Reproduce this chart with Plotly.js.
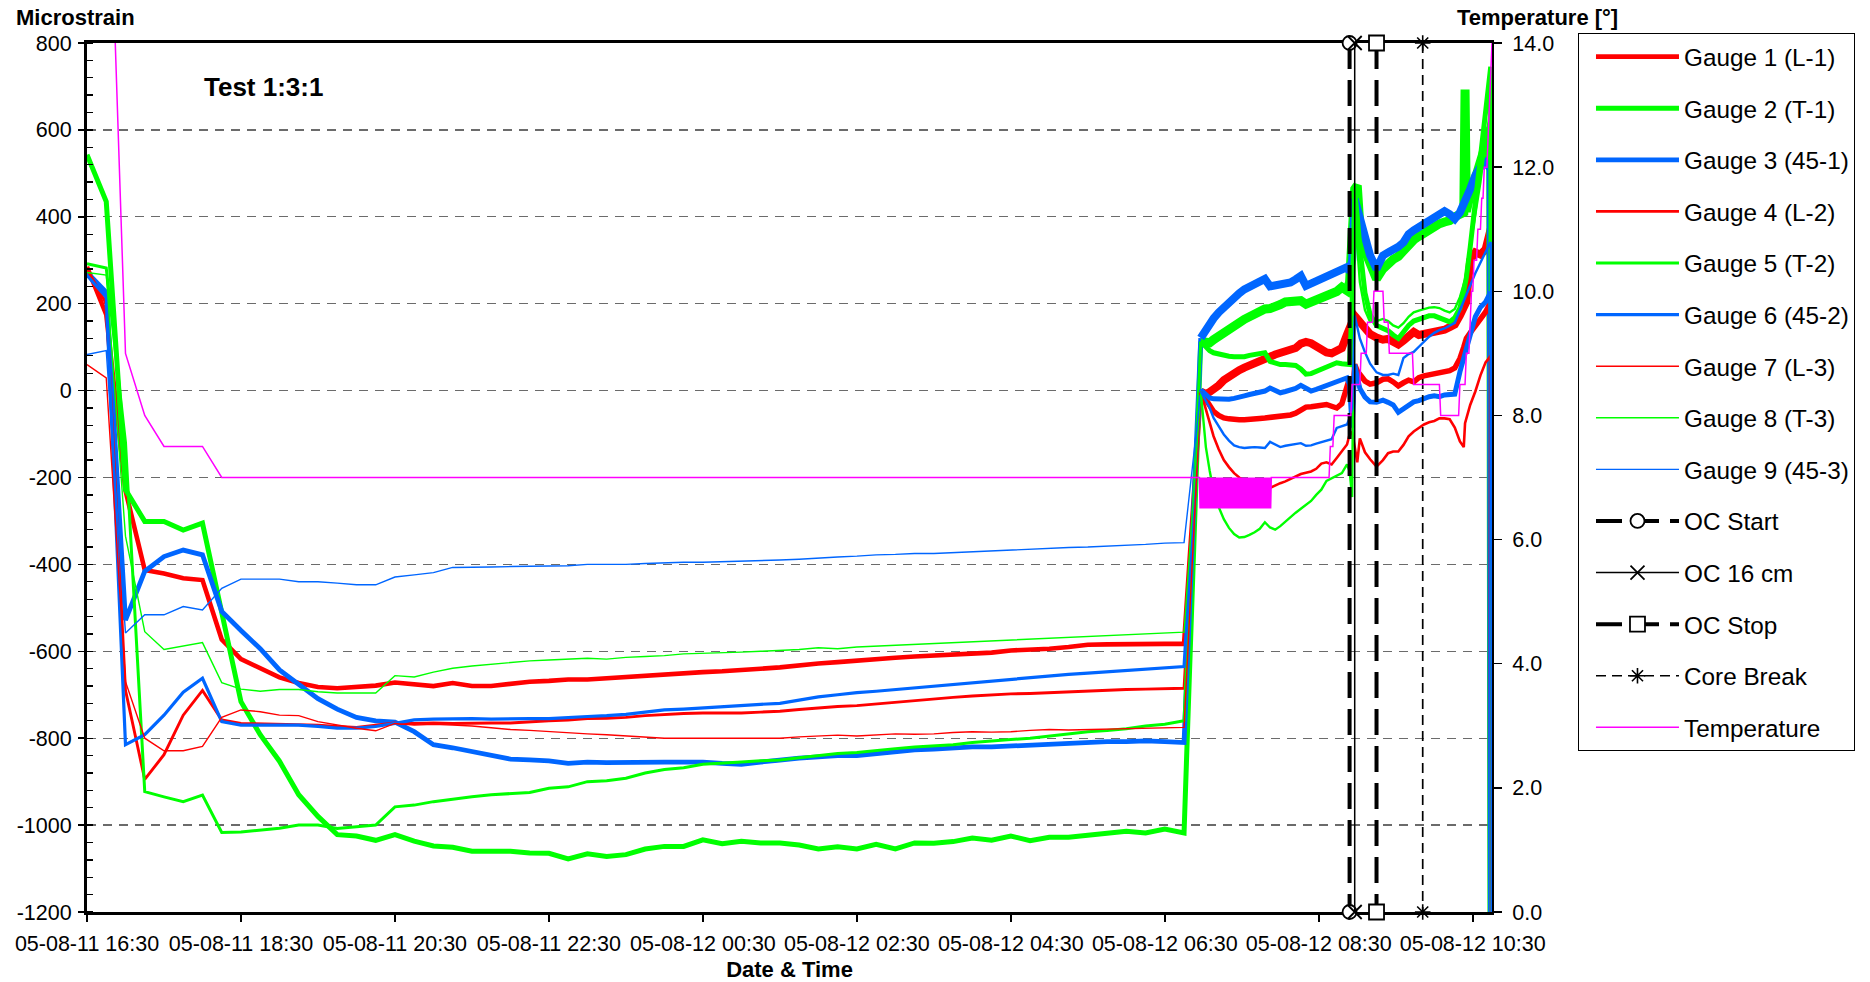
<!DOCTYPE html>
<html>
<head>
<meta charset="utf-8">
<script src="https://cdn.plot.ly/plotly-3.0.1.min.js"></script>
<style>
  html, body { margin: 0; padding: 0; background: #fff; }
  #chart { width: 1870px; height: 982px; }
</style>
</head>
<body>
<div id="chart"></div>
<script>
// ---- Logger data: strain gauges (microstrain) and temperature ----

// 15-minute readings, 05-08-11 16:30 .. 05-08-12 06:45
const slowTimes = ['16:30','16:45','17:00','17:15','17:30','17:45','18:00','18:15','18:30','18:45',
  '19:00','19:15','19:30','19:45','20:00','20:15','20:30','20:45','21:00','21:15',
  '21:30','21:45','22:00','22:15','22:30','22:45','23:00','23:15','23:30','23:45',
  '00:00','00:15','00:30','00:45','01:00','01:15','01:30','01:45','02:00','02:15',
  '02:30','02:45','03:00','03:15','03:30','03:45','04:00','04:15','04:30','04:45',
  '05:00','05:15','05:30','05:45','06:00','06:15','06:30','06:45'];

const g1Slow = [285,175,-230,-413,-421,-432,-436,-573,-618,-638,-660,-673,-682,-685,-683,-679,-672,-676,-680,-673,-680,-680,-675,-670,-668,-665,-665,-662,-660,-655,
  -652,-650,-648,-646,-644,-640,-637,-632,-628,-625,-621,-618,-615,-612,-610,-608,-605,-603,-598,-597,-594,-590,-585,-584,-583,-583,-583,-583];
const g2Slow = [543,435,-228,-301,-301,-321,-305,-515,-716,-792,-853,-930,-980,-1022,-1025,-1035,-1022,-1037,-1048,-1051,-1060,-1060,-1060,-1064,-1065,-1078,-1066,-1072,-1068,-1055,
  -1049,-1049,-1034,-1043,-1037,-1041,-1041,-1046,-1055,-1050,-1055,-1044,-1055,-1041,-1042,-1038,-1030,-1035,-1025,-1036,-1028,-1028,-1024,-1020,-1014,-1018,-1009,-1018];
const g3Slow = [272,226,-528,-416,-382,-367,-378,-508,-552,-594,-643,-677,-709,-733,-752,-760,-763,-785,-815,-822,-830,-840,-848,-850,-852,-858,-855,-856,-855,-854,
  -855,-855,-855,-858,-860,-855,-850,-846,-843,-840,-840,-835,-830,-827,-825,-822,-820,-820,-818,-815,-812,-810,-808,-808,-808,-806,-808,-810];
const g4Slow = [280,200,-690,-895,-838,-747,-690,-758,-766,-767,-768,-768,-770,-773,-775,-770,-765,-766,-765,-766,-765,-765,-765,-762,-760,-758,-755,-754,-752,-748,
  -745,-743,-742,-742,-742,-740,-738,-734,-730,-727,-725,-721,-717,-714,-710,-706,-703,-700,-698,-697,-695,-693,-692,-690,-688,-687,-686,-685];
const g5Slow = [292,282,-120,-923,-935,-946,-931,-1017,-1016,-1012,-1007,-1000,-1000,-1008,-1004,-1000,-958,-954,-946,-940,-935,-930,-928,-925,-915,-912,-900,-898,-892,-880,
  -872,-868,-860,-858,-855,-852,-850,-845,-840,-835,-833,-828,-824,-820,-818,-815,-810,-806,-803,-800,-795,-790,-785,-782,-778,-772,-768,-760];
const g6Slow = [265,215,-815,-792,-747,-694,-662,-762,-770,-770,-770,-770,-773,-777,-777,-773,-766,-758,-756,-755,-755,-756,-755,-755,-755,-752,-750,-748,-745,-740,
  -735,-733,-730,-728,-725,-722,-720,-712,-705,-700,-695,-692,-688,-684,-680,-676,-672,-668,-664,-660,-656,-653,-650,-647,-643,-640,-638,-635];
const g7Slow = [60,29,-670,-800,-829,-829,-819,-752,-735,-739,-747,-748,-762,-770,-777,-783,-766,-770,-768,-770,-772,-776,-780,-782,-785,-788,-790,-792,-795,-798,
  -800,-800,-800,-801,-800,-800,-800,-797,-795,-793,-795,-792,-790,-791,-790,-787,-785,-786,-785,-782,-780,-781,-780,-778,-778,-776,-775,-775];
const g8Slow = [272,266,-335,-555,-596,-588,-580,-672,-687,-692,-688,-688,-693,-696,-696,-696,-656,-659,-648,-639,-634,-630,-625,-622,-620,-618,-616,-618,-614,-612,
  -610,-606,-605,-604,-602,-600,-598,-596,-592,-594,-590,-588,-586,-584,-582,-580,-578,-575,-573,-571,-570,-568,-566,-564,-562,-560,-558,-556];
const g9Slow = [83,92,-558,-516,-516,-497,-505,-455,-434,-434,-434,-440,-440,-443,-447,-447,-429,-424,-419,-407,-407,-406,-405,-404,-403,-403,-400,-400,-400,-398,
  -396,-395,-395,-394,-393,-392,-390,-388,-385,-383,-381,-378,-377,-375,-375,-373,-370,-368,-366,-364,-362,-361,-360,-358,-357,-354,-351,-350];

// fast readings during overcoring, 05-08-12 06:58 .. 10:45
const fastTimes = ['06:58','07:02','07:05','07:08','07:12','07:16','07:20','07:24','07:28','07:32',
  '07:36','07:40','07:44','07:48','07:52','07:56','08:00','08:04','08:08','08:12',
  '08:16','08:20','08:24','08:28','08:32','08:36','08:40','08:44','08:48','08:52',
  '08:54','08:56','08:58','09:00','09:02','09:06','09:10','09:15','09:20','09:24',
  '09:28','09:32','09:36','09:40','09:44','09:48','09:52','09:56','10:00','10:04',
  '10:08','10:12','10:16','10:20','10:23','10:24','10:25','10:28','10:32','10:36',
  '10:40','10:44','10:45'];

const g1Fast = [-2,-8,-3,2,12,24,33,40,47,53,59,65,70,74,78,83,87,90,93,98,108,112,109,102,93,88,86,90,98,129,
  144,150,172,165,158,138,130,122,117,119,112,106,115,128,135,128,130,133,135,135,140,146,152,173,190,196,204,300,318,313,325,372,-1250];
const g2Fast = [113,111,110,117,126,135,142,150,156,164,171,179,186,188,189,191,198,204,206,208,207,199,203,209,214,217,220,228,238,230,
  250,330,464,472,380,322,287,257,280,293,302,309,322,337,347,355,363,371,378,384,388,391,400,406,410,693,412,450,490,522,560,605,-1250];
const g3Fast = [121,141,153,166,180,192,203,212,224,233,240,246,251,257,240,242,244,247,249,256,264,241,246,250,254,259,264,270,277,284,
  274,300,441,420,390,342,311,280,311,318,323,331,341,360,369,377,385,390,400,409,413,406,395,410,435,441,447,464,495,515,525,510,-1250];
const g4Fast = [-2,-20,-35,-48,-57,-63,-65,-67,-67,-67,-67,-66,-64,-63,-62,-60,-59,-58,-56,-52,-44,-38,-37,-35,-34,-32,-36,-40,-30,14,
  29,-40,60,45,36,22,15,18,26,27,20,11,18,24,20,30,34,36,38,43,43,46,52,74,100,110,120,133,150,162,181,204,-1250];
const g5Fast = [113,100,92,87,84,80,79,78,77,78,81,83,85,87,67,63,60,60,60,58,50,38,39,44,49,56,60,64,62,60,
  60,200,460,400,330,225,175,150,142,138,128,120,135,150,160,165,170,172,172,168,162,158,168,190,230,245,260,330,430,530,640,745,-1250];
const g6Fast = [2,-10,-17,-19,-20,-21,-20,-18,-16,-12,-9,-6,-4,-1,6,0,-5,-2,1,5,12,6,-1,3,8,12,16,21,25,29,
  14,-85,60,30,5,-15,-26,-27,-22,-27,-33,-50,-42,-32,-26,-23,-18,-14,-12,-14,-10,-10,-8,43,75,85,97,130,170,192,204,227,-1250];
const g7Fast = [-2,-45,-78,-105,-135,-160,-176,-190,-200,-208,-214,-217,-220,-222,-224,-218,-213,-209,-203,-198,-192,-189,-186,-180,-168,-165,-170,-155,-140,-124,
  -101,-95,-130,-165,-110,-142,-158,-175,-160,-144,-140,-140,-125,-105,-94,-85,-78,-73,-70,-64,-64,-66,-85,-117,-130,-75,-65,-33,-2,35,65,80,-1250];
const g8Fast = [-2,-130,-185,-231,-268,-296,-316,-330,-338,-337,-332,-326,-318,-303,-315,-320,-312,-301,-290,-281,-272,-264,-254,-240,-228,-208,-202,-197,-190,-170,
  -185,-245,430,330,250,185,158,160,165,160,150,145,155,170,180,184,188,191,192,190,184,180,188,215,245,255,275,330,410,480,570,655,-1250];
const g9Fast = [-2,-25,-40,-63,-83,-101,-115,-126,-130,-132,-131,-130,-131,-132,-118,-125,-130,-127,-125,-122,-121,-127,-126,-122,-119,-116,-112,-86,-82,-78,
  -63,-40,173,150,120,88,62,42,36,36,39,36,75,84,89,101,113,124,133,139,143,149,156,185,205,212,219,242,270,296,319,342,-1250];

// temperature [deg C], right axis
const tempTimesA = ['16:30','16:45','17:00','17:15','17:30','17:45','18:00','18:15','06:45'];
const tempValsA  = [18.6,18.4,9.0,8.0,7.5,7.5,7.5,7.0,7.0];
// 30-second readings while the sensor flickers between 7.0 and 6.5
const tempTimesB = [
  '06:57:00','06:57:30','06:58:00','06:58:30','06:59:00','06:59:30',
  '07:00:00','07:00:30','07:01:00','07:01:30','07:02:00','07:02:30','07:03:00','07:03:30','07:04:00','07:04:30',
  '07:05:00','07:05:30','07:06:00','07:06:30','07:07:00','07:07:30','07:08:00','07:08:30','07:09:00','07:09:30',
  '07:10:00','07:10:30','07:11:00','07:11:30','07:12:00','07:12:30','07:13:00','07:13:30','07:14:00','07:14:30',
  '07:15:00','07:15:30','07:16:00','07:16:30','07:17:00','07:17:30','07:18:00','07:18:30','07:19:00','07:19:30',
  '07:20:00','07:20:30','07:21:00','07:21:30','07:22:00','07:22:30','07:23:00','07:23:30','07:24:00','07:24:30',
  '07:25:00','07:25:30','07:26:00','07:26:30','07:27:00','07:27:30','07:28:00','07:28:30','07:29:00','07:29:30',
  '07:30:00','07:30:30','07:31:00','07:31:30','07:32:00','07:32:30','07:33:00','07:33:30','07:34:00','07:34:30',
  '07:35:00','07:35:30','07:36:00','07:36:30','07:37:00','07:37:30','07:38:00','07:38:30','07:39:00','07:39:30',
  '07:40:00','07:40:30','07:41:00','07:41:30','07:42:00','07:42:30','07:43:00','07:43:30','07:44:00','07:44:30',
  '07:45:00','07:45:30','07:46:00','07:46:30','07:47:00','07:47:30','07:48:00','07:48:30','07:49:00','07:49:30',
  '07:50:00','07:50:30','07:51:00','07:51:30','07:52:00','07:52:30'];
const tempValsB = [
  7.0,6.5,7.0,6.5,7.0,6.5,
  7.0,6.5,7.0,6.5,7.0,6.5,7.0,6.5,7.0,6.5,
  7.0,6.5,7.0,6.5,7.0,6.5,7.0,6.5,7.0,6.5,
  7.0,6.5,7.0,6.5,7.0,6.5,7.0,6.5,7.0,6.5,
  7.0,6.5,7.0,6.5,7.0,6.5,7.0,6.5,7.0,6.5,
  7.0,6.5,7.0,6.5,7.0,6.5,7.0,6.5,7.0,6.5,
  7.0,6.5,7.0,6.5,7.0,6.5,7.0,6.5,7.0,6.5,
  7.0,6.5,7.0,6.5,7.0,6.5,7.0,6.5,7.0,6.5,
  7.0,6.5,7.0,6.5,7.0,6.5,7.0,6.5,7.0,6.5,
  7.0,6.5,7.0,6.5,7.0,6.5,7.0,6.5,7.0,6.5,
  7.0,6.5,7.0,6.5,7.0,6.5,7.0,6.5,7.0,6.5,
  7.0,6.5,7.0,6.5,7.0,6.5];
const tempTimesC = ['07:53','08:38','08:39','08:41','08:42','08:55','08:56','09:02','09:03','09:07',
  '09:08','09:12','09:13','09:20','09:21','09:24','09:25','09:43','09:44','10:04',
  '10:05','10:19','10:20','10:24','10:25','10:27','10:28','10:29','10:30','10:31',
  '10:33','10:34','10:36','10:37','10:38','10:39','10:41','10:42','10:43','10:44','10:45'];
const tempValsC  = [7.0,7.0,7.5,7.5,8.0,8.0,8.5,8.5,9.0,9.0,
  9.5,9.5,10.0,10.0,9.5,9.5,9.0,9.0,8.5,8.5,
  8.0,8.0,8.5,8.5,9.0,9.0,9.5,10.0,10.0,10.5,
  10.5,11.0,11.0,11.5,11.5,12.0,12.0,12.5,13.0,13.5,14.0];

// overcoring events
const eventNames = ['OC Start','OC 16 cm','OC Stop','Core Break'];
const eventTimes = ['08:54','08:58','09:15','09:51'];
const eventSpan  = [800, -1200];

// axis ticks
const strainTicks = [800,600,400,200,0,-200,-400,-600,-800,-1000,-1200];
const strainTickText = ['800','600','400','200','0','-200','-400','-600','-800','-1000','-1200'];

const gaugeNames = ['Gauge 1 (L-1)','Gauge 2 (T-1)','Gauge 3 (45-1)','Gauge 4 (L-2)','Gauge 5 (T-2)',
  'Gauge 6 (45-2)','Gauge 7 (L-3)','Gauge 8 (T-3)','Gauge 9 (45-3)'];

// ---- drawing ----
const FONT = 'Liberation Sans, Arial, Helvetica, sans-serif';
const RED = '#ff0000', GREEN = '#00ff00', BLUE = '#0066ff', MAGENTA = '#ff00ff';

// yy-mm-dd: evening belongs to the 11th, morning to the 12th
const at = hm => (parseInt(hm, 10) >= 12 ? '2005-08-11 ' : '2005-08-12 ') + hm;

const slowSeries = [g1Slow,g2Slow,g3Slow,g4Slow,g5Slow,g6Slow,g7Slow,g8Slow,g9Slow];
const fastSeries = [g1Fast,g2Fast,g3Fast,g4Fast,g5Fast,g6Fast,g7Fast,g8Fast,g9Fast];
const colors = [RED,GREEN,BLUE,RED,GREEN,BLUE,RED,GREEN,BLUE];
const slowWidth = [4.6,5,4.8,2.9,3,3.2,1.4,1.4,1.4];
const fastWidth = [8,9,8,5.5,5,5,2.6,2.4,2.4];

const traces = [];
slowSeries.forEach((vals, i) => {
  traces.push({
    type: 'scatter', mode: 'lines', name: gaugeNames[i], legendgroup: 'g' + i,
    x: slowTimes.concat(fastTimes[0]).map(at),
    y: vals.concat(fastSeries[i][0]),
    line: {color: colors[i], width: slowWidth[i]},
    hoverinfo: 'skip'
  });
});
fastSeries.forEach((vals, i) => {
  traces.push({
    type: 'scatter', mode: 'lines', name: gaugeNames[i], legendgroup: 'g' + i, showlegend: false,
    x: fastTimes.map(at), y: vals,
    line: {color: colors[i], width: fastWidth[i]},
    hoverinfo: 'skip'
  });
});

const eventStyle = [
  {line: {color: '#000', width: 4, dash: '26px,11px'}, marker: {symbol: 'circle', size: 14, color: '#fff', line: {color: '#000', width: 1.8}}},
  {line: {color: '#000', width: 1.5}, marker: {symbol: 'x-thin', size: 14, color: '#000', line: {color: '#000', width: 1.8}}},
  {line: {color: '#000', width: 4, dash: '26px,11px'}, marker: {symbol: 'square', size: 15, color: '#fff', line: {color: '#000', width: 1.8}}},
  {line: {color: '#000', width: 1.7, dash: '10px,6px'}, marker: {symbol: 'asterisk', size: 13, color: '#000', line: {color: '#000', width: 1.6}}}
];
eventNames.forEach((name, i) => {
  traces.push(Object.assign({
    type: 'scatter', mode: 'lines+markers', name: name, legendgroup: 'e' + i,
    x: [at(eventTimes[i]), at(eventTimes[i])], y: eventSpan,
    cliponaxis: false, hoverinfo: 'skip'
  }, eventStyle[i]));
});

traces.push({
  type: 'scatter', mode: 'lines', name: 'Temperature', legendgroup: 'temp', yaxis: 'y2',
  x: tempTimesA.concat(tempTimesB, tempTimesC).map(at),
  y: tempValsA.concat(tempValsB, tempValsC),
  line: {color: MAGENTA, width: 1.5, simplify: false},
  hoverinfo: 'skip'
});

const layout = {
  width: 1870, height: 982,
  margin: {l: 87, r: 378, t: 43, b: 70, pad: 0},
  paper_bgcolor: '#fff', plot_bgcolor: '#fff',
  font: {family: FONT, color: '#000', size: 21.5},
  showlegend: true,
  legend: {
    x: 1.0612, y: 1.0111, xanchor: 'left', yanchor: 'top',
    bgcolor: '#fff', bordercolor: '#000', borderwidth: 1,
    font: {family: FONT, size: 24.3, color: '#000'},
    traceorder: 'grouped', tracegroupgap: 17, itemwidth: 83,
    indentation: 12, maxheight: 950
  },
  xaxis: {
    type: 'date',
    range: [at('16:30'), at('10:45')],
    tick0: at('16:30'), dtick: 2 * 3600 * 1000,
    tickformat: '%y-%m-%d %H:%M',
    ticks: 'outside', ticklen: 7, tickwidth: 1.5, tickcolor: '#000',
    ticklabelstandoff: 3,
    tickfont: {family: FONT, size: 21.5},
    showline: true, linewidth: 3, linecolor: '#000', mirror: true,
    showgrid: false, zeroline: false, layer: 'below traces',
    title: {text: '<b>Date & Time</b>', font: {family: FONT, size: 22}, standoff: 11.5}
  },
  yaxis: {
    range: [-1200, 800],
    tickmode: 'array', tickvals: strainTicks, ticktext: strainTickText,
    ticks: 'outside', ticklen: 6, tickwidth: 1.5, tickcolor: '#000',
    ticklabelstandoff: 2,
    tickfont: {family: FONT, size: 21.5},
    showline: true, linewidth: 3, linecolor: '#000',
    showgrid: true, gridcolor: '#6b6b6b', gridwidth: 1.2, griddash: '9px,7px',
    zeroline: false,
    minor: {dtick: 40, ticks: 'inside', ticklen: 6, tickwidth: 1.3, tickcolor: '#000', showgrid: false}
  },
  yaxis2: {
    overlaying: 'y', side: 'right',
    range: [0, 14], tick0: 0, dtick: 2, tickformat: '.1f',
    ticks: 'outside', ticklen: 8, tickwidth: 1.5, tickcolor: '#000',
    ticklabelstandoff: 6,
    tickfont: {family: FONT, size: 21.5},
    showline: true, linewidth: 2, linecolor: '#000',
    showgrid: false, zeroline: false
  },
  annotations: [
    {text: '<b>Microstrain</b>', xref: 'paper', yref: 'paper', x: -0.052, y: 1.0293,
     xanchor: 'left', yanchor: 'middle', showarrow: false, font: {family: FONT, size: 22}},
    {text: '<b>Temperature [°]</b>', xref: 'paper', yref: 'paper', x: 0.9737, y: 1.0293,
     xanchor: 'left', yanchor: 'middle', showarrow: false, font: {family: FONT, size: 22}},
    {text: '<b>Test 1:3:1</b>', xref: 'paper', yref: 'paper', x: 0.0816, y: 0.9494,
     xanchor: 'left', yanchor: 'middle', showarrow: false, font: {family: FONT, size: 26}}
  ]
};

Plotly.newPlot('chart', traces, layout, {displayModeBar: false, staticPlot: true});
</script>
</body>
</html>
